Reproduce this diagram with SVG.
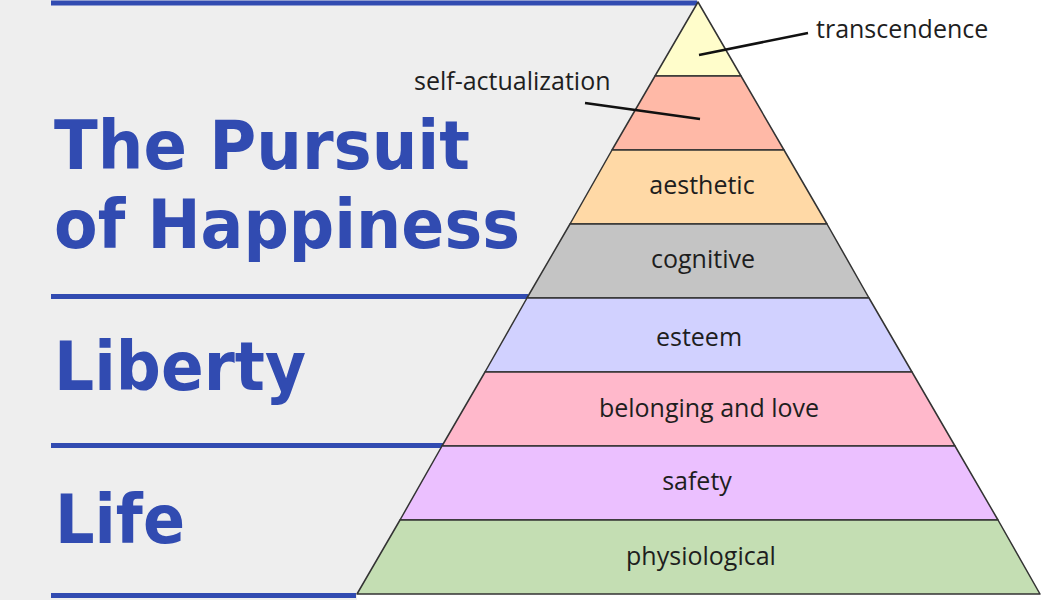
<svg xmlns="http://www.w3.org/2000/svg" width="1043" height="600" viewBox="0 0 1043 600">
<style>
.layer{stroke:#333333;stroke-width:1.5;stroke-linejoin:round}
.lbl{font-family:"Open Sans","Liberation Sans",sans-serif;font-size:25px;fill:#1e1e1e;text-anchor:middle}
.ann{font-family:"Open Sans","Liberation Sans",sans-serif;font-size:25px;fill:#1e1e1e}
.title{font-family:"DejaVu Sans","Liberation Sans",sans-serif;font-weight:bold;font-size:68px;fill:#314bb1}
.band{stroke:#314bb1;stroke-width:5}
.leader{stroke:#111111;stroke-width:2.5;fill:none}
</style>
<rect x="0" y="0" width="1043" height="600" fill="#ffffff"/>
<polygon points="0,0 698,0 698,2 357,594 357,600 0,600" fill="#eeeeee"/>
<g id="bands">
<line class="band" x1="51" y1="3" x2="697" y2="3"/>
<line class="band" x1="51" y1="296.5" x2="528" y2="296.5"/>
<line class="band" x1="51" y1="445.5" x2="443" y2="445.5"/>
<line class="band" x1="51" y1="595.5" x2="356" y2="595.5"/>
</g>
<g id="title-pursuit"><text class="title" x="54" y="169" textLength="416" lengthAdjust="spacingAndGlyphs">The Pursuit</text>
<text class="title" x="54" y="248" textLength="466" lengthAdjust="spacingAndGlyphs">of Happiness</text></g>
<g id="title-liberty"><text class="title" x="54" y="390" textLength="252" lengthAdjust="spacingAndGlyphs">Liberty</text></g>
<g id="title-life"><text class="title" x="55" y="543" textLength="130" lengthAdjust="spacingAndGlyphs">Life</text></g>
<g id="layer-transcendence"><polygon class="layer" fill="#fffdcb" points="698,2 741,76 655,76"/></g>
<g id="layer-self-actualization"><polygon class="layer" fill="#ffb9a7" points="655,76 741,76 784,150 612,150"/></g>
<g id="layer-aesthetic"><polygon class="layer" fill="#ffd9a6" points="612,150 784,150 827,224 570,224"/>
<text class="lbl" x="702" y="194">aesthetic</text></g>
<g id="layer-cognitive"><polygon class="layer" fill="#c4c4c4" points="570,224 827,224 869,298 527,298"/>
<text class="lbl" x="703" y="268">cognitive</text></g>
<g id="layer-esteem"><polygon class="layer" fill="#d1d1ff" points="527,298 869,298 912,372 485,372"/>
<text class="lbl" x="699" y="346">esteem</text></g>
<g id="layer-belonging"><polygon class="layer" fill="#ffb8cb" points="485,372 912,372 955,446 442,446"/>
<text class="lbl" x="709" y="417">belonging and love</text></g>
<g id="layer-safety"><polygon class="layer" fill="#ebc0ff" points="442,446 955,446 998,520 400,520"/>
<text class="lbl" x="697" y="490">safety</text></g>
<g id="layer-physiological"><polygon class="layer" fill="#c4deb3" points="400,520 998,520 1040,594 357,594"/>
<text class="lbl" x="701" y="565">physiological</text></g>
<g id="connectors">
<line class="leader" x1="699" y1="55" x2="808" y2="33"/>
<line class="leader" x1="585" y1="103" x2="700" y2="119"/>
</g>
<g id="label-transcendence"><text class="ann" x="816" y="38">transcendence</text></g>
<g id="label-self-actualization"><text class="ann" x="414" y="90">self-actualization</text></g>
</svg>
